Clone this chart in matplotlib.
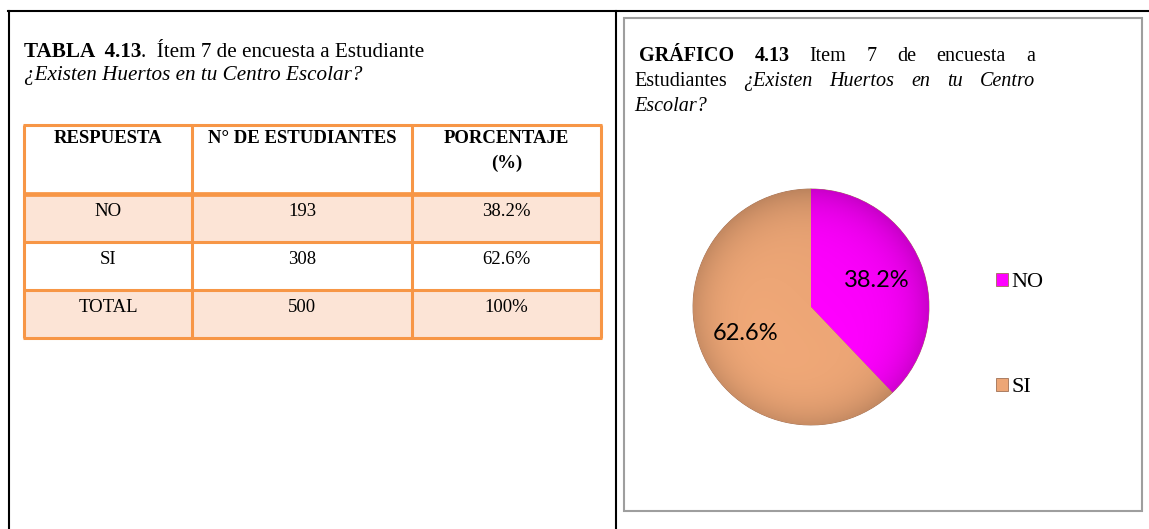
import matplotlib
matplotlib.use("Agg")
import matplotlib.pyplot as plt
import numpy as np
from matplotlib.patches import Rectangle
from matplotlib.colors import to_rgb

# table data
headers = ["RESPUESTA", "N° DE ESTUDIANTES", "PORCENTAJE\n(%)"]
respuestas = ["NO", "SI", "TOTAL"]
estudiantes = [193, 308, 500]
porcentajes = ["38.2%", "62.6%", "100%"]

# pie data
pie_labels = ["NO", "SI"]
pie_pct = [38.2, 62.6]
pie_colors = ["#FF00FF", "#EDA676"]

W, H = 1149, 529
fig = plt.figure(figsize=(W / 100, H / 100), dpi=100)
ax = fig.add_axes([0, 0, 1, 1])
ax.set_xlim(0, W)
ax.set_ylim(H, 0)
ax.axis("off")

serif = "Liberation Serif"
orange = "#F79646"
peach = "#FCE4D6"
renderer = fig.canvas.get_renderer()

# page frame
ax.plot([8, W], [11, 11], color="black", lw=1.5)
ax.plot([9, 9], [11, H], color="black", lw=1.5)
ax.plot([616, 616], [11, H], color="black", lw=1.5)
ax.add_patch(Rectangle((624, 18), 518, 493, fill=False, ec="#9E9E9E", lw=1.5))

# left title
t = ax.text(24, 57, "TABLA  4.13", fontfamily=serif, fontweight="bold", fontsize=15.2, va="baseline")
x_end = 24 + t.get_window_extent(renderer).width
ax.text(x_end, 57, ".  Ítem 7 de encuesta a Estudiante", fontfamily=serif, fontsize=15.2, va="baseline")
ax.text(24, 80, "¿Existen Huertos en tu Centro Escolar?", fontfamily=serif, fontstyle="italic",
        fontsize=15.2, va="baseline")

# table
col_x = [24, 192, 412, 601]
row_y = [125, 194, 242, 290, 338]
fills = ["white", peach, "white", peach]
for r in range(4):
    for c in range(3):
        ax.add_patch(Rectangle((col_x[c], row_y[r]), col_x[c + 1] - col_x[c], row_y[r + 1] - row_y[r],
                               fc=fills[r], ec="none"))
for y in row_y:
    ax.plot([col_x[0] - 1, col_x[-1] + 1], [y, y], color=orange, lw=3.4 if y == row_y[1] else 2.2,
            solid_capstyle="butt")
for x in col_x:
    ax.plot([x, x], [row_y[0], row_y[-1]], color=orange, lw=2.2, solid_capstyle="butt")

for c, h in enumerate(headers):
    cx = (col_x[c] + col_x[c + 1]) / 2
    for i, part in enumerate(h.split("\n")):
        ax.text(cx, 143 + 25 * i, part, fontfamily=serif, fontweight="bold", fontsize=13.5,
                ha="center", va="baseline")

for r in range(3):
    base = row_y[r + 1] + 22
    vals = [respuestas[r], str(estudiantes[r]), porcentajes[r]]
    for c, v in enumerate(vals):
        cx = (col_x[c] + col_x[c + 1]) / 2
        ax.text(cx, base, v, fontfamily=serif, fontsize=13.5, ha="center", va="baseline")


# right title, justified lines
def justified(words, x0, x1, y):
    objs = []
    for w, st in words:
        kw = dict(fontfamily=serif, fontsize=14.5, va="baseline")
        if st == "b":
            kw["fontweight"] = "bold"
        if st == "i":
            kw["fontstyle"] = "italic"
        objs.append(ax.text(x0, y, w, **kw))
    widths = [o.get_window_extent(renderer).width for o in objs]
    gap = (x1 - x0 - sum(widths)) / max(len(objs) - 1, 1)
    x = x0
    for o, wd in zip(objs, widths):
        o.set_x(x)
        x += wd + gap


justified([("GRÁFICO", "b"), ("4.13", "b"), ("Item", ""), ("7", ""), ("de", ""),
           ("encuesta", ""), ("a", "")], 639, 1035, 61)
justified([("Estudiantes", ""), ("¿Existen", "i"), ("Huertos", "i"), ("en", "i"),
           ("tu", "i"), ("Centro", "i")], 634, 1035, 86)
ax.text(634, 111, "Escolar?", fontfamily=serif, fontstyle="italic", fontsize=14.5, va="baseline")

# pie
cx, cy, rad = 811, 307, 118
pax = fig.add_axes([(cx - rad) / W, 1 - (cy + rad) / H, 2 * rad / W, 2 * rad / H])
pct_iter = iter(pie_pct)
wedges, _, autotexts = pax.pie(pie_pct, colors=pie_colors, startangle=90, counterclock=False,
                               autopct=lambda p: "%.1f%%" % next(pct_iter), pctdistance=0.6,
                               wedgeprops=dict(edgecolor="#A07055", linewidth=0.6),
                               textprops=dict(fontfamily="Lato", fontsize=17, color="black"))

# soft shading on each wedge, darker near the rim
gx, gy = np.meshgrid(np.linspace(-1, 1, 300), np.linspace(1, -1, 300))
rr = np.sqrt(gx ** 2 + gy ** 2)
shade = 1 - 0.18 * np.clip(rr, 0, 1) ** 5 - 0.05 * (gx + gy) * 0.5
for w, col in zip(wedges, pie_colors):
    base = np.array(to_rgb(col))
    img = np.clip(base[None, None, :] * shade[:, :, None], 0, 1)
    im = pax.imshow(img, extent=(-1, 1, -1, 1), zorder=w.get_zorder() + 0.1, interpolation="bilinear")
    im.set_clip_path(w)
for at in autotexts:
    at.set_zorder(5)

pax.set_xlim(-1, 1)
pax.set_ylim(-1, 1)
pax.set_aspect("equal")
pax.axis("off")

fig.legend(wedges, pie_labels, loc="center left", bbox_to_anchor=(985 / W, 1 - 335 / H),
           frameon=False, prop=dict(family=serif, size=16), handlelength=0.55, handleheight=0.55,
           handletextpad=0.15, labelspacing=3.85, borderpad=0)

fig.savefig("out.png", dpi=100)
